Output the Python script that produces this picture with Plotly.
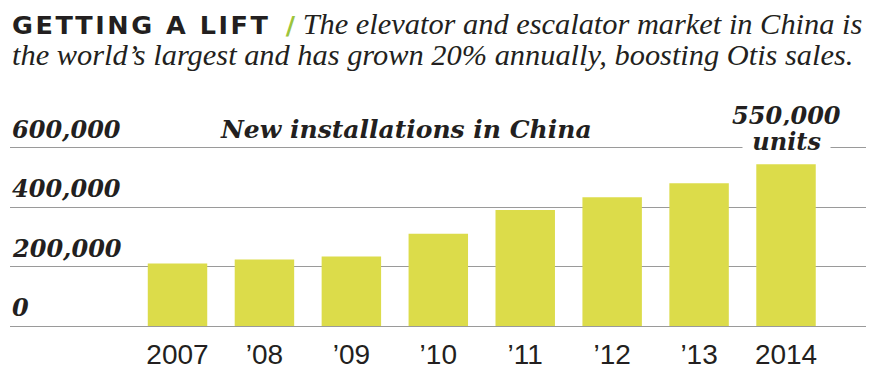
import plotly.graph_objects as go

# ---- data ----
years = ["2007", "’08", "’09", "’10", "’11", "’12", "’13", "2014"]
installs = [211000, 224000, 234000, 311000, 391000, 434000, 481000, 545000]
y_ticks = [0, 200000, 400000, 600000]
y_tick_labels = ["0", "200,000", "400,000", "600,000"]
callout_value = "550,000"
callout_unit = "units"
chart_title = "New installations in China"
headline = "GETTING A LIFT"
dek_line1 = "The elevator and escalator market in China is"
dek_line2 = "the world’s largest and has grown 20% annually, boosting Otis sales."

INK = "#231f20"
GRID = "#9a9a9a"
BAR = "#dcdc4a"
SERIF_BI = "DejaVu Serif"
DEK_FONT = "Liberation Serif"

fig = go.Figure()
fig.add_trace(go.Bar(x=years, y=installs, marker_color=BAR, marker_line_width=0,
                     width=0.684, hoverinfo="skip"))

fig.update_layout(
    width=860, height=364,
    margin=dict(l=2, r=2, t=134, b=44),
    paper_bgcolor="white", plot_bgcolor="white",
    showlegend=False,
    xaxis=dict(type="category", range=[-1.927, 7.92], showgrid=False, zeroline=False,
               showline=True, linecolor=GRID, linewidth=1, ticks="",
               ticklabelstandoff=3,
               tickfont=dict(family="Liberation Sans", size=28, color=INK)),
    yaxis=dict(range=[0, 620000], tickvals=y_ticks, showticklabels=False,
               showgrid=True, gridcolor=GRID, gridwidth=1, zeroline=False, ticks=""),
)

bi = dict(family=SERIF_BI, size=24, color=INK, weight="bold", style="italic")
anns = []
for v, t in zip(y_ticks, y_tick_labels):
    anns.append(dict(x=0.0, xref="paper", xanchor="left", y=v, yref="y", yanchor="bottom",
                     yshift=2, text=t, showarrow=False, font=bi))

anns.append(dict(x=0.4626, xref="paper", xanchor="center", y=600000, yref="y", yanchor="bottom",
                 yshift=2, text=chart_title, showarrow=False, font=dict(bi, size=25)))

last = len(years) - 1
anns.append(dict(x=last, xref="x", xanchor="center", y=600000, yref="y", yanchor="bottom",
                 yshift=16, text=callout_value, showarrow=False, font=bi))
anns.append(dict(x=last, xref="x", xanchor="center", y=600000, yref="y", yanchor="bottom",
                 yshift=-10, text="\u00a0" + callout_unit + "\u00a0", showarrow=False,
                 bgcolor="white", borderpad=1, font=bi))

spaced = "\u200a".join(list(headline))
line1 = (f"<span style='font-family:DejaVu Sans;font-weight:bold;font-size:25.5px'>{spaced}"
         f"\u00a0\u00a0<span style='color:#9cc43c'>/</span></span>"
         f"\u00a0<i>{dek_line1}</i>")
anns.append(dict(x=0, xref="paper", xanchor="left", y=1.539, yref="paper", yanchor="bottom",
                 text=line1, showarrow=False,
                 font=dict(family=DEK_FONT, size=30.4, color=INK)))
anns.append(dict(x=0, xref="paper", xanchor="left", y=1.372, yref="paper", yanchor="bottom",
                 text=f"<i>{dek_line2}</i>", showarrow=False,
                 font=dict(family=DEK_FONT, size=30.4, color=INK)))

fig.update_layout(annotations=anns)
fig.write_html("out.html")
